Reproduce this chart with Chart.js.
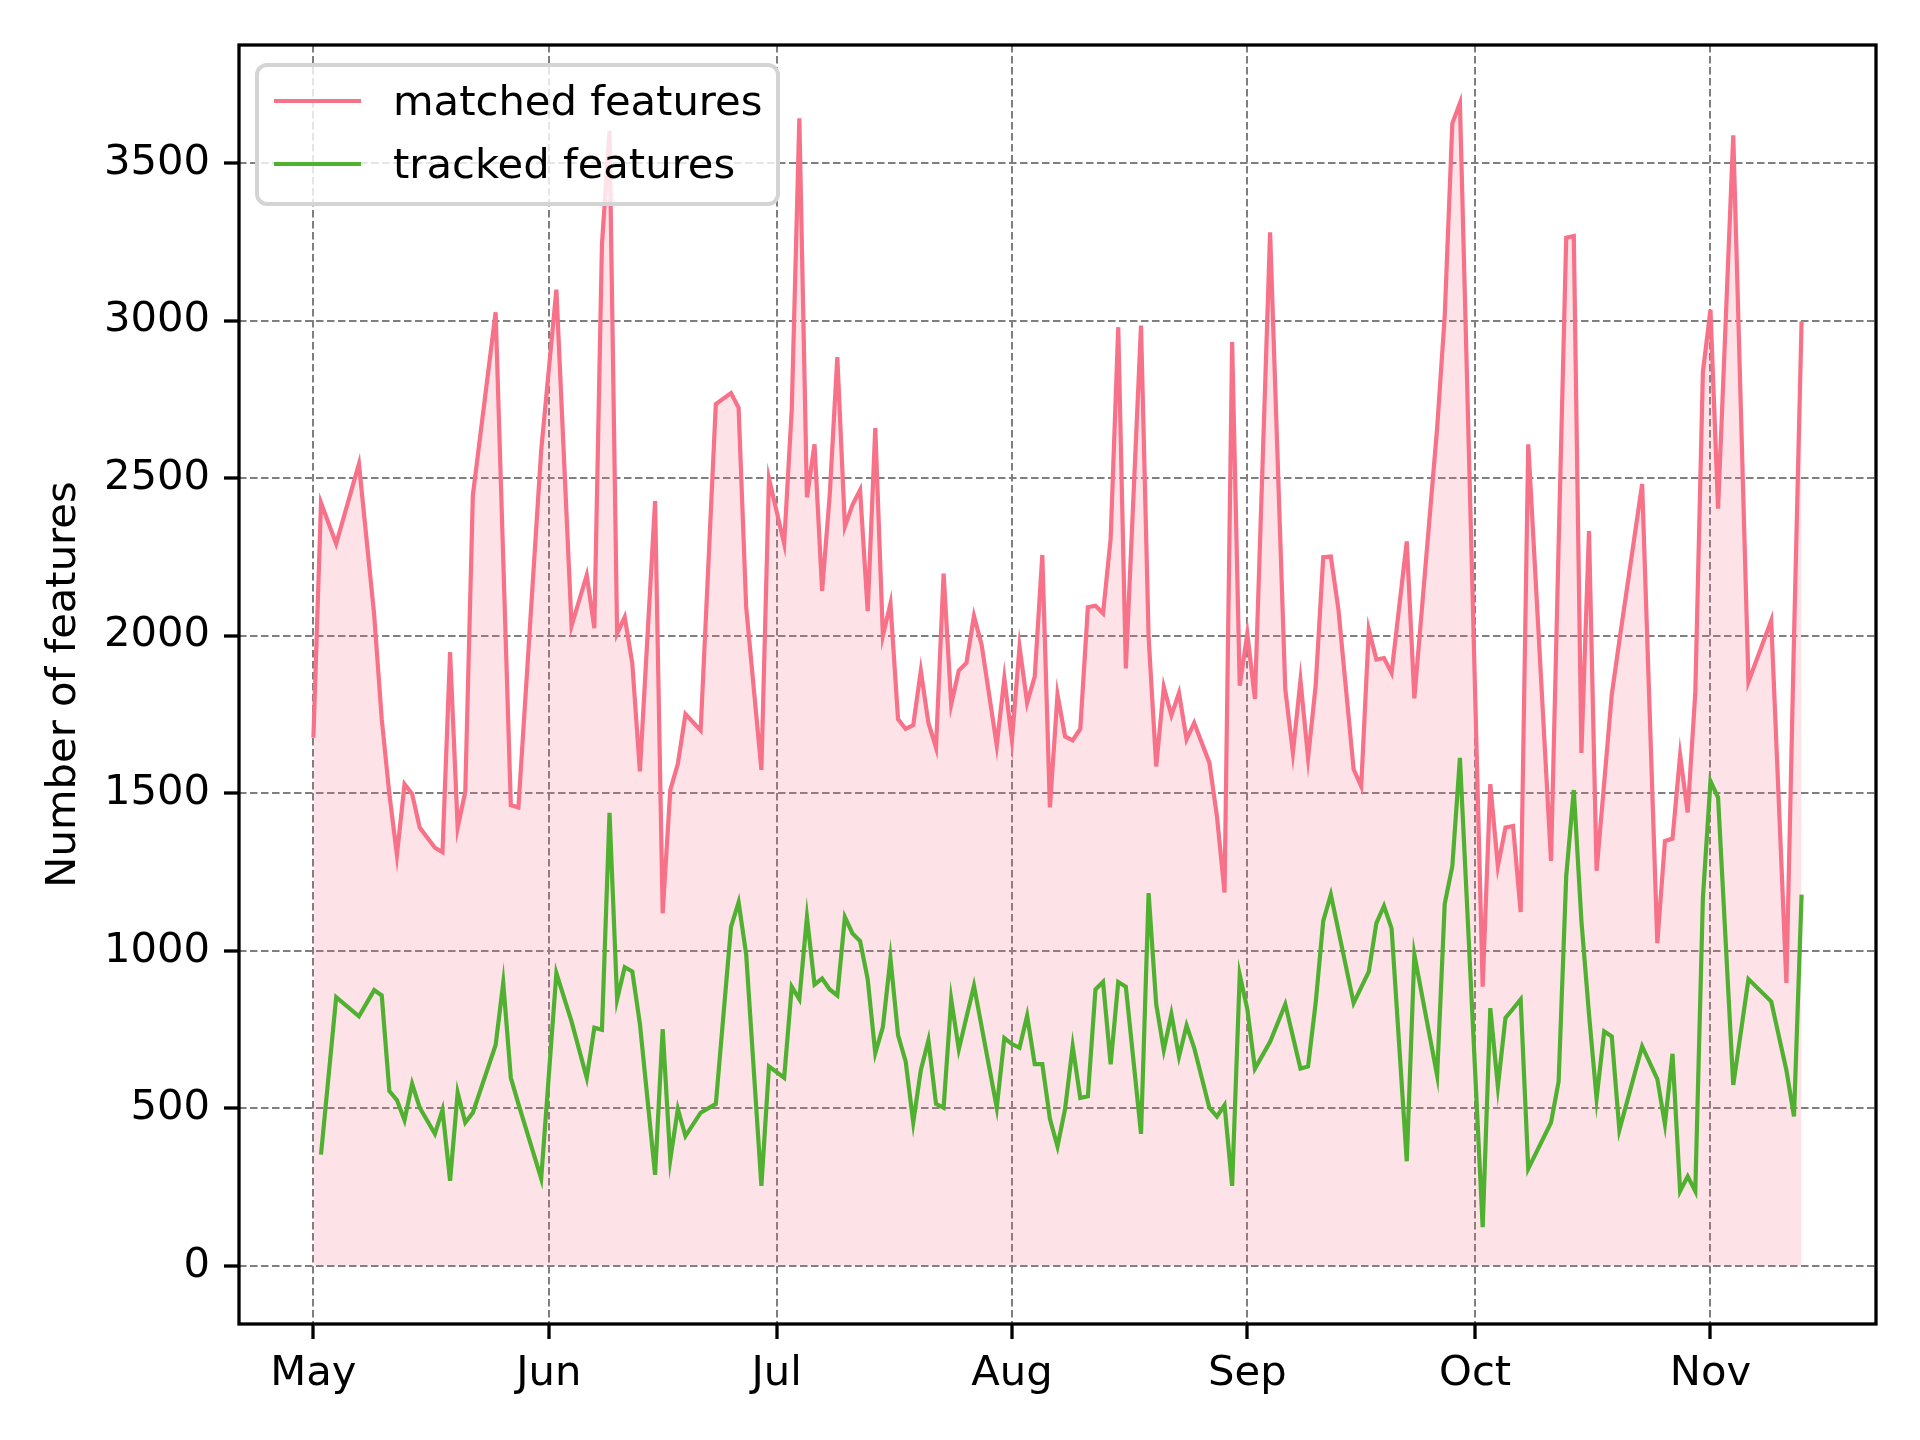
<!DOCTYPE html>
<html>
<head>
<meta charset="utf-8">
<script src="https://cdn.jsdelivr.net/npm/chart.js@4.4.1/dist/chart.umd.min.js"></script>
<style>
  html, body { margin: 0; padding: 0; background: #fff; }
  #wrap { width: 1920px; height: 1440px; }
</style>
</head>
<body>
<div id="wrap"><canvas id="chart" width="1920" height="1440"></canvas></div>
<script>
// --- Data --------------------------------------------------------------

const dates = [
  "05-01", "05-02", "05-04", "05-07", "05-09", "05-10", "05-11", "05-12", "05-13", "05-14",
  "05-15", "05-17", "05-18", "05-19", "05-20", "05-21", "05-22", "05-25", "05-26", "05-27",
  "05-28", "05-31", "06-02", "06-04", "06-06", "06-07", "06-08", "06-09", "06-10", "06-11",
  "06-12", "06-13", "06-15", "06-16", "06-17", "06-18", "06-19", "06-21", "06-23", "06-25",
  "06-26", "06-27", "06-29", "06-30", "07-02", "07-03", "07-04", "07-05", "07-06", "07-07",
  "07-08", "07-09", "07-10", "07-11", "07-12", "07-13", "07-14", "07-15", "07-16", "07-17",
  "07-18", "07-19", "07-20", "07-21", "07-22", "07-23", "07-24", "07-25", "07-26", "07-27",
  "07-28", "07-30", "07-31", "08-01", "08-02", "08-03", "08-04", "08-05", "08-06", "08-07",
  "08-08", "08-09", "08-10", "08-11", "08-12", "08-13", "08-14", "08-15", "08-16", "08-18",
  "08-19", "08-20", "08-21", "08-22", "08-23", "08-24", "08-25", "08-27", "08-28", "08-29",
  "08-30", "08-31", "09-01", "09-02", "09-04", "09-06", "09-07", "09-08", "09-09", "09-10",
  "09-11", "09-12", "09-13", "09-15", "09-16", "09-17", "09-18", "09-19", "09-20", "09-22",
  "09-23", "09-26", "09-27", "09-28", "09-29", "10-02", "10-03", "10-04", "10-05", "10-06",
  "10-07", "10-08", "10-11", "10-12", "10-13", "10-14", "10-15", "10-16", "10-17", "10-18",
  "10-19", "10-20", "10-23", "10-25", "10-26", "10-27", "10-28", "10-29", "10-30", "10-31",
  "11-01", "11-02", "11-04", "11-06", "11-09", "11-11", "11-12", "11-13",
];

const matched = [
  1676, 2422, 2292, 2545, 2067, 1735, 1498, 1304, 1529, 1498,
  1391, 1327, 1313, 1948, 1391, 1505, 2446, 3026, 2244, 1462,
  1455, 2588, 3098, 2031, 2192, 2024, 3240, 3602, 2007, 2059,
  1912, 1569, 2427, 1119, 1510, 1593, 1751, 1699, 2735, 2770,
  2723, 2090, 1574, 2498, 2292, 2718, 3642, 2439, 2607, 2142,
  2446, 2884, 2346, 2415, 2462, 2078, 2659, 2000, 2102, 1735,
  1704, 1716, 1889, 1723, 1645, 2197, 1782, 1889, 1913, 2062,
  1972, 1652, 1865, 1668, 1965, 1787, 1870, 2256, 1455, 1813,
  1680, 1668, 1704, 2090, 2095, 2071, 2308, 2979, 1896, 2984,
  1995, 1585, 1837, 1747, 1818, 1671, 1723, 1597, 1427, 1185,
  2932, 1841, 2007, 1799, 3280, 1830, 1628, 1858, 1612, 1841,
  2249, 2251, 2083, 1576, 1522, 2019, 1924, 1929, 1882, 2299,
  1801, 2659, 3015, 3626, 3690, 886, 1529, 1268, 1391, 1396,
  1123, 2607, 1285, 2287, 3263, 3268, 1628, 2332, 1254, 1533,
  1813, 1984, 2481, 1024, 1348, 1356, 1621, 1439, 1818, 2837,
  3034, 2403, 3588, 1853, 2048, 898, 1993, 2998,
];

const tracked = [
  null, 353, 853, 792, 875, 858, 555, 526, 462, 578,
  502, 419, 495, 270, 550, 455, 486, 701, 898, 597,
  514, 277, 929, 775, 597, 756, 749, 1438, 846, 948,
  934, 768, 289, 751, 337, 498, 412, 486, 514, 1076,
  1154, 988, 254, 633, 597, 886, 846, 1107, 893, 912,
  877, 858, 1107, 1055, 1031, 910, 675, 758, 976, 732,
  649, 455, 621, 716, 514, 502, 846, 687, 788, 889,
  760, 502, 723, 704, 692, 794, 640, 640, 467, 379,
  498, 697, 533, 538, 877, 901, 640, 901, 886, 419,
  1183, 830, 685, 799, 664, 763, 692, 502, 474, 510,
  254, 924, 815, 626, 711, 830, 728, 626, 633, 834,
  1095, 1178, 1064, 834, 884, 934, 1088, 1142, 1071, 332,
  988, 604, 1149, 1268, 1612, 123, 818, 569, 787, 816,
  846, 308, 455, 585, 1237, 1510, 1095, 799, 531, 744,
  728, 431, 697, 593, 450, 673, 237, 284, 237, 1166,
  1538, 1486, 574, 910, 839, 621, 474, 1178,
];

const monthStarts = ["05-01", "06-01", "07-01", "08-01", "09-01", "10-01", "11-01"];
const monthLabels = ["May", "Jun", "Jul", "Aug", "Sep", "Oct", "Nov"];
const yTicks = [0, 500, 1000, 1500, 2000, 2500, 3000, 3500];

// --- Helpers -----------------------------------------------------------

function dayOf(md) {
  // days since May 1 (year does not matter between May and Nov)
  const [m, d] = md.split("-").map(Number);
  return (Date.UTC(2021, m - 1, d) - Date.UTC(2021, 4, 1)) / 864e5;
}

const days = dates.map(dayOf);
const tickDays = monthStarts.map(dayOf);

// matplotlib-style 5% margins
const xSpan = Math.max(...days) - Math.min(...days);
const xMin = Math.min(...days) - 0.05 * xSpan;
const xMax = Math.max(...days) + 0.05 * xSpan;
const yTop = Math.max(...matched);
const yMin = -0.05 * yTop;
const yMax = yTop + 0.05 * yTop;

const FONT = "'DejaVu Sans', 'Liberation Sans', sans-serif";
const FS = 41.7;
const RED = "#f77189";
const GREEN = "#50b131";

// --- Plugins -----------------------------------------------------------

const frame = {
  id: "frame",
  afterDraw(chart) {
    const { ctx, chartArea: a } = chart;
    ctx.save();
    ctx.strokeStyle = "#000";
    ctx.lineWidth = 3.3;
    ctx.strokeRect(a.left, a.top, a.right - a.left, a.bottom - a.top);
    ctx.restore();
  },
};

const innerLegend = {
  id: "innerLegend",
  afterDatasetsDraw(chart) {
    const { ctx, chartArea: a } = chart;
    const x = a.left + 18, y = a.top + 20, w = 521, h = 139;
    ctx.save();
    ctx.beginPath();
    ctx.roundRect(x, y, w, h, 10);
    ctx.fillStyle = "rgba(255,255,255,0.8)";
    ctx.fill();
    ctx.lineWidth = 4;
    ctx.strokeStyle = "#d4d4d4";
    ctx.stroke();

    const rows = [36, 99];
    chart.data.datasets.forEach((ds, i) => {
      const ry = y + rows[i];
      ctx.beginPath();
      ctx.moveTo(x + 17, ry);
      ctx.lineTo(x + 104, ry);
      ctx.lineWidth = 4.2;
      ctx.strokeStyle = ds.borderColor;
      ctx.stroke();
      ctx.fillStyle = "#000";
      ctx.font = `${FS}px ${FONT}`;
      ctx.textBaseline = "middle";
      ctx.fillText(ds.label, x + 136, ry + 3);
    });
    ctx.restore();
  },
};

// --- Chart -------------------------------------------------------------

const gridOpts = {
  color: "#7f7f7f",
  lineWidth: 2,
  tickColor: "#000",
  tickWidth: 3.3,
  tickLength: 15,
};

new Chart(document.querySelector("#chart"), {
  type: "line",
  data: {
    labels: days,
    datasets: [
      {
        label: "matched features",
        data: matched,
        borderColor: RED,
        backgroundColor: "rgba(247,113,137,0.2)",
        borderWidth: 4.2,
        fill: "origin",
        pointRadius: 0,
        tension: 0,
        order: 2,
      },
      {
        label: "tracked features",
        data: tracked,
        borderColor: GREEN,
        borderWidth: 4.2,
        fill: false,
        pointRadius: 0,
        tension: 0,
        order: 1,
      },
    ],
  },
  options: {
    responsive: false,
    animation: false,
    devicePixelRatio: 1,
    layout: { padding: { top: 45, right: 44, left: 0, bottom: 0 } },
    plugins: { legend: { display: false }, tooltip: { enabled: false } },
    scales: {
      x: {
        type: "linear",
        min: xMin,
        max: xMax,
        afterBuildTicks: (s) => { s.ticks = tickDays.map((v) => ({ value: v })); },
        afterFit: (s) => { s.height = 116; },
        grid: gridOpts,
        border: { display: false, dash: [7.5, 3.5] },
        ticks: {
          autoSkip: false,
          maxRotation: 0,
          padding: 10,
          color: "#000",
          font: { family: FONT, size: FS },
          callback: (v, i) => monthLabels[i],
        },
      },
      y: {
        min: yMin,
        max: yMax,
        afterBuildTicks: (s) => { s.ticks = yTicks.map((v) => ({ value: v })); },
        afterFit: (s) => { s.width = 239; },
        grid: gridOpts,
        border: { display: false, dash: [7.5, 3.5] },
        ticks: {
          padding: 14,
          color: "#000",
          font: { family: FONT, size: FS },
          callback: (v) => String(v),
        },
        title: {
          display: true,
          text: "Number of features",
          color: "#000",
          font: { family: FONT, size: FS },
          padding: { top: 39, bottom: 0 },
        },
      },
    },
  },
  plugins: [innerLegend, frame],
});
</script>
</body>
</html>
